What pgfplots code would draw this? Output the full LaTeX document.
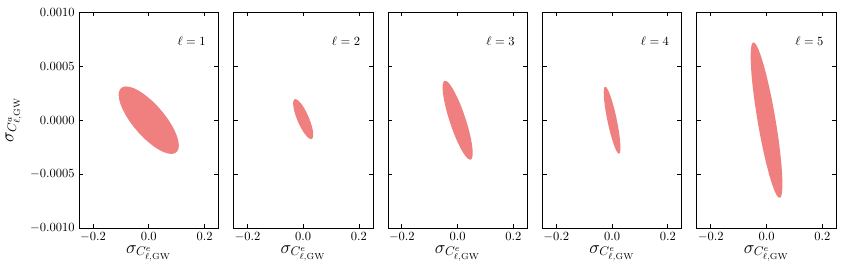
\documentclass[border=0pt]{standalone}
\usepackage{pgfplots}
\pgfplotsset{compat=1.18}
\usepgfplotslibrary{groupplots}
\definecolor{ell}{RGB}{240,128,128}
\begin{document}
\begin{tikzpicture}
\begin{groupplot}[
  group style={group size=5 by 1, horizontal sep=12pt, yticklabels at=edge left, ylabels at=edge left},
  scale only axis, width=111.5pt, height=173pt,
  xmin=-0.25, xmax=0.25, ymin=-0.001, ymax=0.001,
  xtick={-0.2,0,0.2}, ytick={-0.001,-0.0005,0,0.0005,0.001},
  xticklabel style={/pgf/number format/.cd, fixed, fixed zerofill, precision=1},
  yticklabel style={/pgf/number format/.cd, fixed, fixed zerofill, precision=4},
  scaled y ticks=false, scaled x ticks=false,
  tick align=inside, xtick pos=both, ytick pos=both, major tick length=3.5pt,
  axis line style={line width=0.6pt}, every tick/.style={black, line width=0.6pt},
  xlabel={$\sigma_{C^{e}_{\ell,\mathrm{GW}}}$},
  ylabel={$\sigma_{C^{a}_{\ell,\mathrm{GW}}}$},
  label style={font=\Large},
  xlabel style={yshift=4pt}, ylabel style={yshift=0pt},
]
\nextgroupplot
\addplot[fill=ell, draw=none] coordinates {
(0.1080,-0.000234) (0.1064,-0.000195) (0.1015,-0.000149) (0.0935,-0.0000995) (0.0827,-0.0000466) (0.0694,0.0000076)
(0.0540,0.0000617) (0.0369,0.000114) (0.0187,0.000163) (0,0.000206) (-0.0187,0.000244) (-0.0369,0.000274)
(-0.0540,0.000296) (-0.0694,0.000308) (-0.0827,0.000312) (-0.0935,0.000306) (-0.1015,0.000290) (-0.1064,0.000266)
(-0.1080,0.000234) (-0.1064,0.000195) (-0.1015,0.000149) (-0.0935,0.0000995) (-0.0827,0.0000466) (-0.0694,-0.0000076)
(-0.0540,-0.0000617) (-0.0369,-0.000114) (-0.0187,-0.000163) (0,-0.000206) (0.0187,-0.000244) (0.0369,-0.000274)
(0.0540,-0.000296) (0.0694,-0.000308) (0.0827,-0.000312) (0.0935,-0.000306) (0.1015,-0.000290) (0.1064,-0.000266)
} -- cycle;
\node[anchor=east, inner sep=0pt] at (rel axis cs:0.91,0.863) {$\ell=1$};
\nextgroupplot
\addplot[fill=ell, draw=none] coordinates {
(0.0360,-0.000134) (0.0355,-0.000112) (0.0338,-0.000086) (0.0312,-0.000057) (0.0276,-0.000026) (0.0231,0.000006)
(0.0180,0.000038) (0.0123,0.000069) (0.0063,0.000099) (0,0.000126) (-0.0063,0.000149) (-0.0123,0.000168)
(-0.0180,0.000182) (-0.0231,0.000191) (-0.0276,0.000195) (-0.0312,0.000193) (-0.0338,0.000185) (-0.0355,0.000172)
(-0.0360,0.000154) (-0.0355,0.000132) (-0.0338,0.000106) (-0.0312,0.000077) (-0.0276,0.000046) (-0.0231,0.000014)
(-0.0180,-0.000018) (-0.0123,-0.000049) (-0.0063,-0.000079) (0,-0.000106) (0.0063,-0.000129) (0.0123,-0.000148)
(0.0180,-0.000162) (0.0231,-0.000171) (0.0276,-0.000175) (0.0312,-0.000173) (0.0338,-0.000165) (0.0355,-0.000152)
} -- cycle;
\node[anchor=east, inner sep=0pt] at (rel axis cs:0.91,0.863) {$\ell=2$};
\nextgroupplot
\addplot[fill=ell, draw=none] coordinates {
(0.0540,-0.000303) (0.0532,-0.000263) (0.0507,-0.000215) (0.0468,-0.000161) (0.0414,-0.000101) (0.0347,-0.0000388)
(0.0270,0.0000249) (0.0185,0.0000877) (0.0094,0.000148) (0,0.000204) (-0.0094,0.000253) (-0.0185,0.000295)
(-0.0270,0.000328) (-0.0347,0.000351) (-0.0414,0.000363) (-0.0468,0.000364) (-0.0507,0.000354) (-0.0532,0.000334)
(-0.0540,0.000303) (-0.0532,0.000263) (-0.0507,0.000215) (-0.0468,0.000161) (-0.0414,0.000101) (-0.0347,0.0000388)
(-0.0270,-0.0000249) (-0.0185,-0.0000877) (-0.0094,-0.000148) (0,-0.000204) (0.0094,-0.000253) (0.0185,-0.000295)
(0.0270,-0.000328) (0.0347,-0.000351) (0.0414,-0.000363) (0.0468,-0.000364) (0.0507,-0.000354) (0.0532,-0.000334)
} -- cycle;
\node[anchor=east, inner sep=0pt] at (rel axis cs:0.91,0.863) {$\ell=3$};
\nextgroupplot
\addplot[fill=ell, draw=none] coordinates {
(0.0300,-0.000254) (0.0295,-0.000220) (0.0282,-0.000178) (0.0260,-0.000131) (0.0230,-0.0000807) (0.0193,-0.0000275)
(0.0150,0.0000266) (0.0103,0.0000798) (0.0052,0.000131) (0,0.000177) (-0.0052,0.000219) (-0.0103,0.000254)
(-0.0150,0.000281) (-0.0193,0.000299) (-0.0230,0.000309) (-0.0260,0.000309) (-0.0282,0.000300) (-0.0295,0.000281)
(-0.0300,0.000254) (-0.0295,0.000220) (-0.0282,0.000178) (-0.0260,0.000131) (-0.0230,0.0000807) (-0.0193,0.0000275)
(-0.0150,-0.0000266) (-0.0103,-0.0000798) (-0.0052,-0.000131) (0,-0.000177) (0.0052,-0.000219) (0.0103,-0.000254)
(0.0150,-0.000281) (0.0193,-0.000299) (0.0230,-0.000309) (0.0260,-0.000309) (0.0282,-0.000300) (0.0295,-0.000281)
} -- cycle;
\node[anchor=east, inner sep=0pt] at (rel axis cs:0.91,0.863) {$\ell=4$};
\nextgroupplot
\addplot[fill=ell, draw=none] coordinates {
(0.0570,-0.000590) (0.0561,-0.000510) (0.0536,-0.000414) (0.0494,-0.000305) (0.0437,-0.000187) (0.0366,-0.0000638)
(0.0285,0.0000617) (0.0195,0.000185) (0.0099,0.000303) (0,0.000412) (-0.0099,0.000508) (-0.0195,0.000589)
(-0.0285,0.000652) (-0.0366,0.000695) (-0.0437,0.000717) (-0.0494,0.000717) (-0.0536,0.000696) (-0.0561,0.000653)
(-0.0570,0.000590) (-0.0561,0.000510) (-0.0536,0.000414) (-0.0494,0.000305) (-0.0437,0.000187) (-0.0366,0.0000638)
(-0.0285,-0.0000617) (-0.0195,-0.000185) (-0.0099,-0.000303) (0,-0.000412) (0.0099,-0.000508) (0.0195,-0.000589)
(0.0285,-0.000652) (0.0366,-0.000695) (0.0437,-0.000717) (0.0494,-0.000717) (0.0536,-0.000696) (0.0561,-0.000653)
} -- cycle;
\node[anchor=east, inner sep=0pt] at (rel axis cs:0.91,0.863) {$\ell=5$};
\end{groupplot}
\path ([xshift=-63.2pt, yshift=-34.2pt]group c1r1.south west) rectangle ([xshift=5.4pt, yshift=9.6pt]group c5r1.north east);
\end{tikzpicture}
\end{document}
